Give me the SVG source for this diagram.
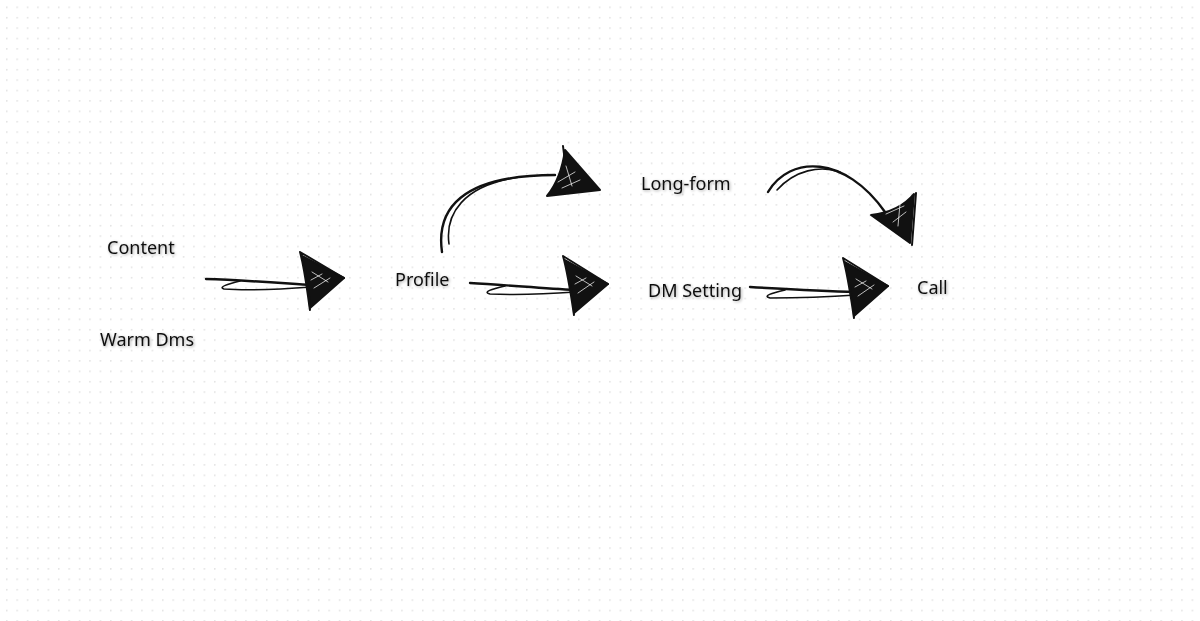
<svg xmlns="http://www.w3.org/2000/svg" width="1200" height="621" viewBox="0 0 1200 621">
<defs>
<pattern id="dots" x="6" y="6.5" width="10.4" height="10.4" patternUnits="userSpaceOnUse">
<circle cx="0.8" cy="0.8" r="0.8" fill="#dcdcdc"/>
</pattern>
<filter id="sh" x="-20%" y="-50%" width="140%" height="200%">
<feGaussianBlur in="SourceAlpha" stdDeviation="1.5" result="b"/>
<feOffset dx="1" dy="1" result="o"/>
<feComponentTransfer in="o" result="s"><feFuncA type="linear" slope="0.35"/></feComponentTransfer>
<feMerge><feMergeNode in="s"/><feMergeNode in="SourceGraphic"/></feMerge>
</filter>
<style>
.lbl{font-family:"Noto Sans","Liberation Sans",sans-serif;font-size:18px;fill:#111}
.ln{fill:none;stroke:#111;stroke-width:2.4;stroke-linecap:round;stroke-linejoin:round}
.ln2{fill:none;stroke:#111;stroke-width:1.6;stroke-linecap:round}
.hd{fill:#111;stroke:#111;stroke-width:2;stroke-linejoin:round}
.hl{fill:none;stroke:#111;stroke-width:2;stroke-linecap:round}
.hi{fill:none;stroke:#fff;stroke-width:0.9;stroke-linecap:round;opacity:0.8}
</style>
</defs>
<rect width="1200" height="621" fill="#ffffff"/>
<rect width="1200" height="621" fill="url(#dots)"/>

<g id="connectors">
<g id="a1">
<path class="ln" d="M206,279 C240,280 280,283 312,285"/>
<path class="ln2" d="M240,281 C228,284 218,287 224,289 C250,291 285,289 312,287"/>
<path class="hd" d="M302,256 L344,278 L310,308 C309,290 306,272 302,256 Z"/>
<path class="hl" d="M300,252 C305,270 307,290 310,310 M300,252 L344,278"/>
<path class="hi" d="M312,272 L328,282 M314,288 L330,278 M311,280 L322,274"/>
</g>
<g id="a2">
<path class="ln" d="M470,283 C505,285 540,288 575,290"/>
<path class="ln2" d="M505,286 C492,289 482,292 490,294 C515,295 548,294 575,292"/>
<path class="hd" d="M565,260 L608,284 L574,313 C573,295 569,277 565,260 Z"/>
<path class="hl" d="M563,256 C568,274 571,295 574,315 M563,256 L608,284"/>
<path class="hi" d="M576,276 L592,286 M578,293 L594,282 M575,284 L586,278"/>
</g>
<g id="a3">
<path class="ln" d="M750,287 C785,289 820,291 856,292"/>
<path class="ln2" d="M785,290 C772,293 762,296 770,298 C795,298 828,297 856,295"/>
<path class="hd" d="M845,262 L888,286 L854,316 C853,298 849,280 845,262 Z"/>
<path class="hl" d="M843,258 C848,276 851,298 854,318 M843,258 L888,286"/>
<path class="hi" d="M856,279 L872,289 M858,296 L874,285 M855,287 L866,281"/>
</g>
<g id="a4">
<path class="ln" d="M442,252 C436,210 460,175 555,175"/>
<path class="ln2" d="M449,244 C445,215 462,185 520,177"/>
<path class="hd" d="M565,150 L600,190 L547,196 C556,185 562,172 565,150 Z"/>
<path class="hl" d="M563,146 L567,178"/>
<path class="hi" d="M558,182 L575,172 M562,188 L580,180 M566,166 L572,186"/>
</g>
<g id="a5">
<path class="ln" d="M768,192 C790,155 845,155 885,212"/>
<path class="ln2" d="M777,190 C795,170 820,165 840,172"/>
<path class="hd" d="M914,194 L910,243 L871,215 C890,213 905,205 914,194 Z"/>
<path class="hl" d="M916,193 L912,245"/>
<path class="hi" d="M886,214 L904,206 M893,222 L906,212 M900,204 L898,226"/>
</g>
</g>

<g id="n-content"><text class="lbl" x="107" y="254" filter="url(#sh)">Content</text></g>
<g id="n-warm"><text class="lbl" x="100" y="346" filter="url(#sh)">Warm Dms</text></g>
<g id="n-profile"><text class="lbl" x="395" y="286" filter="url(#sh)">Profile</text></g>
<g id="n-longform"><text class="lbl" x="641" y="190" filter="url(#sh)">Long-form</text></g>
<g id="n-dm"><text class="lbl" x="648" y="297" filter="url(#sh)">DM Setting</text></g>
<g id="n-call"><text class="lbl" x="917" y="294" filter="url(#sh)">Call</text></g>
</svg>
